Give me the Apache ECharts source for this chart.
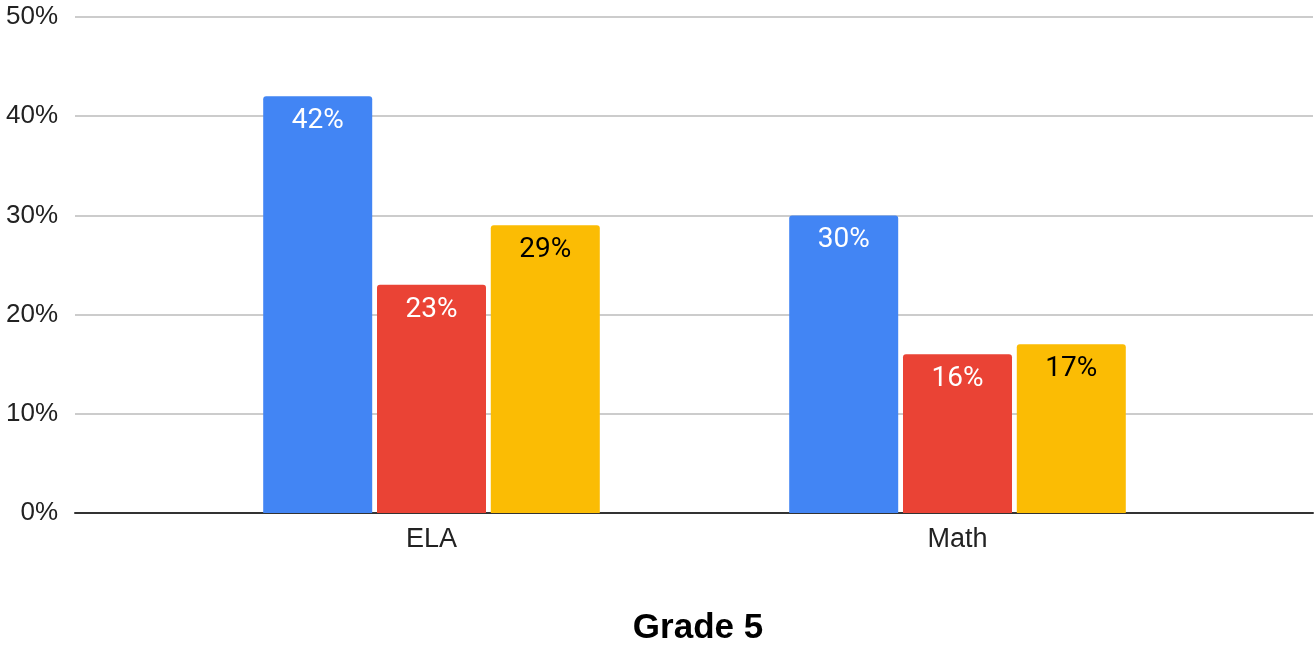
<!DOCTYPE html>
<html>
<head>
<meta charset="utf-8">
<script src="https://cdn.jsdelivr.net/npm/echarts@6/dist/echarts.min.js"></script>
<style>
  html, body { margin: 0; padding: 0; background: #fff; }
  #chart { width: 1315px; height: 645px; }
</style>
</head>
<body>
<div id="chart"></div>
<script>
const categories = ['ELA', 'Math'];
const seriesNames = ['Series A', 'Series B', 'Series C'];
const seriesA = [0.42, 0.30];
const seriesB = [0.23, 0.16];
const seriesC = [0.29, 0.17];
const colors = ['#4285f4', '#ea4335', '#fbbc04'];
const labelColors = ['#ffffff', '#ffffff', '#000000'];
const yTicks = [0, 0.1, 0.2, 0.3, 0.4, 0.5];

const pct = v => Math.round(v * 100) + '%';
const seriesData = [seriesA, seriesB, seriesC];

const chart = echarts.init(document.getElementById('chart'), null, { renderer: 'canvas' });

chart.setOption({
  animation: false,
  title: {
    text: 'Grade 5',
    left: 693,
    textAlign: 'center',
    top: 606,
    textStyle: { fontFamily: 'Liberation Sans, Arial', fontWeight: 'bold', fontSize: 35, color: '#000' }
  },
  grid: [
    // full-width grid carrying the value scale and gridlines
    { left: 75, right: 2, top: 17, bottom: 132 },
    // inner grid where the category bands sit
    { left: 168.5, right: 94.5, top: 17, bottom: 132 }
  ],
  xAxis: [
    {
      gridIndex: 0, type: 'category', data: [''],
      axisLine: { show: true, lineStyle: { color: '#333', width: 2 } },
      axisTick: { show: false }, axisLabel: { show: false }, splitLine: { show: false }
    },
    {
      gridIndex: 1, type: 'category', data: categories,
      axisLine: { show: false }, axisTick: { show: false },
      axisLabel: { margin: 13, fontFamily: 'Liberation Sans, Arial', fontSize: 27, color: '#222' }
    }
  ],
  yAxis: [
    {
      gridIndex: 0, type: 'value', min: yTicks[0], max: yTicks[yTicks.length - 1], interval: 0.1,
      axisLine: { show: false }, axisTick: { show: false },
      axisLabel: { margin: 17, fontFamily: 'Liberation Sans, Arial', fontSize: 26, color: '#222', formatter: pct },
      splitLine: { lineStyle: { color: '#cccccc', width: 2 } }
    },
    {
      gridIndex: 1, type: 'value', min: yTicks[0], max: yTicks[yTicks.length - 1], interval: 0.1,
      show: false, splitLine: { show: false }
    }
  ],
  series: seriesData.map((d, i) => ({
    name: seriesNames[i],
    type: 'bar',
    xAxisIndex: 1,
    yAxisIndex: 1,
    data: d,
    barWidth: 109,
    barGap: '4.4%',
    itemStyle: { color: colors[i], borderRadius: [3, 3, 0, 0] },
    label: {
      show: true,
      position: 'insideTop',
      distance: 11,
      formatter: p => pct(p.value),
      fontFamily: 'Roboto, Liberation Sans, Arial',
      fontSize: 28,
      color: labelColors[i]
    }
  }))
});
</script>
</body>
</html>
